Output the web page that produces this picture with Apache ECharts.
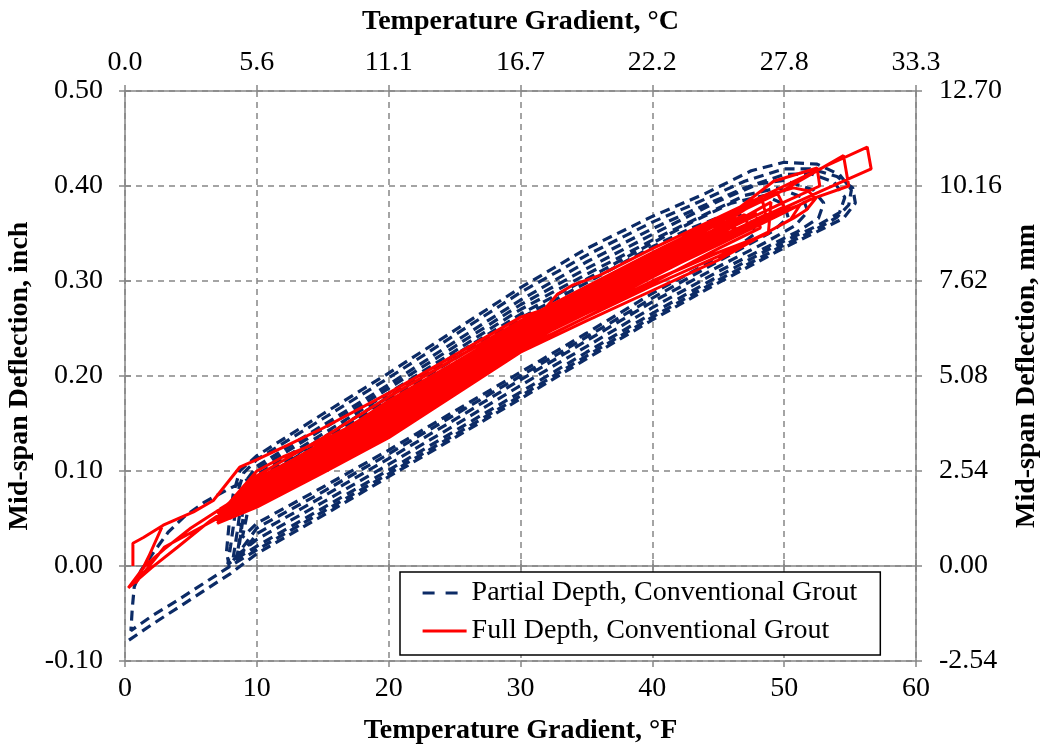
<!DOCTYPE html>
<html>
<head>
<meta charset="utf-8">
<title>Mid-span Deflection vs Temperature Gradient</title>
<script src="https://cdn.jsdelivr.net/npm/echarts@6/dist/echarts.min.js"></script>
<style>
  html, body { margin: 0; padding: 0; background: #ffffff; }
  #chart { width: 1042px; height: 748px; }
</style>
</head>
<body>
<div id="chart"></div>
<script>
// Tick labels for the secondary (metric) axes
const celsiusTicks = ['0.0', '5.6', '11.1', '16.7', '22.2', '27.8', '33.3'];
const mmTicks = ['-2.54', '0.00', '2.54', '5.08', '7.62', '10.16', '12.70'];

// Partial depth panels: daily cycles of [temperature gradient (°F), deflection (in)]
const partialDepthCycle1 = [[0.3,-0.078],[2,-0.062],[4,-0.044],[6,-0.026],[8,-0.008],[10,0.013],[15,0.053],[20,0.094],[25,0.135],[30,0.176],[35,0.218],[40,0.259],[45,0.298],[50,0.335],[52.5,0.352],[54.5,0.366],[55.4,0.382],[55.2,0.398],[54,0.41],[52,0.418],[50,0.418],[47,0.405],[43,0.38],[40,0.362],[35,0.327],[30,0.288],[25,0.243],[20,0.198],[15,0.155],[10,0.112],[9,0.098],[8.6,0.08],[8.3,0.05],[8.0,0.02],[7.8,0.002]];
const partialDepthCycle2 = [[7.8,0.002],[10,0.021],[15,0.061],[20,0.101],[25,0.142],[30,0.183],[35,0.225],[40,0.266],[45,0.305],[50,0.342],[52.5,0.358],[54.2,0.372],[54.6,0.388],[53.8,0.404],[52,0.413],[50,0.412],[47,0.398],[43,0.374],[40,0.355],[35,0.32],[30,0.28],[25,0.236],[20,0.191],[15,0.148],[10,0.105],[9.2,0.09],[8.8,0.065],[8.5,0.035],[8.2,0.008]];
const partialDepthCycle3 = [[8.2,0.008],[10,0.028],[15,0.067],[20,0.107],[25,0.148],[30,0.19],[35,0.231],[40,0.272],[45,0.31],[48,0.331],[51,0.352],[52.6,0.366],[53,0.382],[52.2,0.396],[50,0.406],[48,0.402],[45,0.384],[40,0.349],[35,0.313],[30,0.275],[25,0.231],[20,0.187],[15,0.144],[10,0.101],[9.3,0.085],[9,0.055],[8.7,0.025],[8.4,0.004]];
const partialDepthCycle4 = [[8.4,0.004],[10,0.034],[15,0.073],[20,0.113],[25,0.154],[30,0.196],[35,0.237],[40,0.278],[45,0.315],[48.5,0.34],[50.8,0.358],[51.8,0.373],[51.4,0.388],[49.5,0.398],[47,0.39],[44,0.37],[40,0.343],[35,0.307],[30,0.27],[25,0.226],[20,0.182],[15,0.139],[10,0.096],[8,0.082],[6,0.067],[4.5,0.052],[3.3,0.036],[2.2,0.015],[1.2,-0.005],[0.7,-0.022],[0.55,-0.045],[0.45,-0.068]];
const partialDepthCycle5 = [[0.45,-0.068],[2,-0.053],[4,-0.036],[6,-0.018],[8,0.0],[10,0.017],[15,0.057],[20,0.097],[25,0.138],[30,0.179],[35,0.221],[40,0.262],[45,0.301],[50,0.338],[52.5,0.355],[54,0.367],[54.9,0.38],[55.1,0.396],[54.2,0.412],[52.5,0.423],[50,0.425],[47.5,0.416],[44,0.392],[40,0.368],[35,0.334],[30,0.293],[25,0.248],[20,0.203],[15,0.16],[10,0.116],[8.7,0.1],[8.2,0.075],[7.9,0.045],[7.7,0.015],[7.9,0.0]];
const partialDepthCycle6 = [[7.9,0.0],[10,0.04],[15,0.078],[20,0.118],[25,0.159],[30,0.2],[35,0.241],[40,0.282],[44,0.313],[47,0.336],[49.2,0.353],[50.3,0.367],[50,0.381],[48.5,0.39],[46,0.382],[43,0.362],[40,0.34],[35,0.302],[30,0.265],[25,0.222],[20,0.178],[15,0.135],[10,0.092],[9.5,0.075],[9.2,0.05],[8.9,0.03]];
const partialDepthCycle7 = [[8.9,0.03],[10,0.045],[15,0.083],[20,0.122],[25,0.163],[30,0.204],[35,0.245],[40,0.287],[44,0.317],[46.5,0.336],[47.8,0.35],[47.5,0.365],[46,0.372],[43,0.356],[40,0.336],[35,0.298],[30,0.261],[25,0.218],[20,0.175],[15,0.132],[10,0.089],[9,0.07],[8.8,0.04],[8.5,0.01]];

// Full depth panels: daily cycles of [temperature gradient (°F), deflection (in)]
const fullDepthCycle1 = [[0.6,0.0],[0.6,0.024],[1.4,0.03],[2.9,0.043],[5.2,0.057],[6.7,0.069],[8.7,0.104],[10,0.112],[12.3,0.127],[15,0.145],[20,0.182],[25,0.222],[30,0.262],[31.8,0.27],[32.8,0.286],[34,0.296],[36,0.306],[40,0.334],[45,0.367],[50,0.4],[53,0.42],[56.3,0.441],[56.6,0.418],[53,0.396],[50,0.377],[45,0.343],[40,0.31],[35,0.276],[30,0.24],[25,0.2],[20,0.16],[15,0.12],[10,0.082],[7.5,0.062]];
const fullDepthCycle2 = [[7.5,0.062],[10,0.09],[15,0.13],[20,0.172],[25,0.213],[30,0.253],[35,0.29],[40,0.326],[45,0.362],[50,0.396],[54.5,0.432],[54.9,0.4],[52,0.386],[50,0.372],[45,0.338],[40,0.305],[35,0.27],[30,0.233],[25,0.193],[20,0.153],[15,0.114],[10,0.076],[7,0.055]];
const fullDepthCycle3 = [[7,0.055],[10,0.087],[15,0.127],[20,0.168],[25,0.21],[30,0.25],[35,0.288],[40,0.323],[45,0.36],[49.2,0.405],[52.5,0.419],[52.7,0.4],[50,0.383],[45,0.35],[40,0.315],[35,0.279],[30,0.244],[25,0.205],[20,0.164],[15,0.124],[10,0.084],[7.2,0.06]];
const fullDepthCycle4 = [[7.2,0.06],[10,0.083],[15,0.122],[20,0.162],[25,0.204],[30,0.245],[35,0.283],[40,0.318],[44,0.348],[47,0.375],[49.2,0.392],[50.7,0.398],[51.8,0.395],[52.4,0.387],[51.7,0.375],[50.7,0.366],[48.7,0.351],[45,0.326],[40,0.295],[35,0.262],[30,0.228],[25,0.183],[20,0.137],[15,0.1],[10,0.064],[7,0.047]];
const fullDepthCycle5 = [[7,0.047],[10,0.08],[15,0.12],[20,0.16],[25,0.2],[30,0.24],[35,0.279],[40,0.316],[45,0.352],[49,0.383],[48.8,0.35],[45,0.33],[40,0.3],[35,0.266],[30,0.232],[25,0.189],[20,0.145],[15,0.107],[10,0.07],[7.2,0.05]];
const fullDepthCycle6 = [[7.2,0.05],[10,0.078],[15,0.118],[20,0.158],[25,0.198],[30,0.238],[35,0.276],[40,0.312],[45,0.348],[47.8,0.372],[48.1,0.362],[45,0.338],[40,0.306],[35,0.27],[30,0.236],[25,0.194],[20,0.15],[15,0.111],[10,0.073],[7,0.052]];
const fullDepthCycle7 = [[7,0.052],[10,0.095],[15,0.135],[20,0.178],[25,0.218],[30,0.258],[35,0.294],[40,0.33],[45,0.364],[48.3,0.388],[48.6,0.37],[45,0.345],[40,0.31],[35,0.275],[30,0.238],[25,0.196],[20,0.152],[15,0.113],[10,0.075],[7.3,0.055]];
const fullDepthCycle8 = [[7.3,0.055],[10,0.072],[15,0.11],[20,0.15],[25,0.19],[30,0.232],[35,0.27],[40,0.305],[45,0.34],[50,0.374],[51.2,0.38],[50.5,0.365],[45,0.322],[40,0.29],[35,0.258],[30,0.225],[25,0.18],[20,0.135],[15,0.098],[10,0.062],[7,0.045]];
const fullDepthCycle9 = [[7,0.045],[10,0.088],[15,0.13],[20,0.17],[25,0.21],[30,0.25],[35,0.286],[40,0.322],[45,0.356],[47,0.37],[47.3,0.356],[45,0.342],[40,0.308],[35,0.272],[30,0.238],[25,0.198],[20,0.157],[15,0.118],[10,0.079],[7.5,0.06]];
const fullDepthCycle10 = [[7.5,0.06],[10,0.1],[12,0.115],[15,0.132],[20,0.168],[25,0.207],[30,0.246],[35,0.283],[40,0.319],[44.5,0.35],[44.8,0.338],[40,0.304],[35,0.268],[30,0.23],[25,0.186],[20,0.142],[15,0.104],[10,0.068],[7.3,0.05]];
const fullDepthCycle11 = [[7.3,0.05],[10,0.092],[15,0.128],[20,0.174],[25,0.214],[30,0.255],[35,0.291],[40,0.328],[45,0.362],[49.5,0.392],[50,0.378],[45,0.346],[40,0.312],[35,0.277],[30,0.243],[25,0.202],[20,0.16],[15,0.12],[10,0.083],[7.3,0.055]];
const fullDepthCycle12 = [[7.3,0.055],[10,0.077],[15,0.116],[20,0.155],[25,0.195],[30,0.236],[35,0.273],[40,0.309],[45,0.344],[48,0.365],[48.2,0.356],[45,0.334],[40,0.298],[35,0.262],[30,0.228],[25,0.186],[20,0.14],[15,0.102],[10,0.066],[7.3,0.05]];
const fullDepthCycle13 = [[7.3,0.05],[10,0.086],[15,0.124],[20,0.164],[25,0.204],[30,0.244],[35,0.282],[40,0.318],[45,0.354],[46,0.36],[46.2,0.35],[40,0.31],[35,0.276],[30,0.242],[25,0.201],[20,0.158],[15,0.118],[10,0.08],[7.3,0.05]];
const fullDepthCycle14 = [[7.3,0.05],[10,0.085],[15,0.125],[20,0.165],[25,0.206],[30,0.247],[35,0.285],[40,0.32],[46,0.363],[46.5,0.35],[40,0.31],[35,0.274],[30,0.24],[25,0.198],[20,0.155],[15,0.116],[10,0.078],[7,0.058],[5,0.04],[3,0.018],[1.5,0.0],[0.25,-0.023],[2,-0.002],[4,0.02],[6.5,0.048]];
const fullDepthCycle15 = [[6.5,0.048],[10,0.081],[15,0.121],[20,0.162],[25,0.203],[30,0.243],[35,0.281],[40,0.317],[43,0.338],[43.5,0.33],[40,0.308],[35,0.272],[30,0.235],[25,0.19],[20,0.147],[15,0.108],[10,0.07],[7,0.05],[3,0.02],[0.8,-0.018],[1.8,0.01],[2.8,0.041]];

const partialDepth = [].concat(partialDepthCycle1, partialDepthCycle2, partialDepthCycle3,
  partialDepthCycle4, partialDepthCycle5, partialDepthCycle6, partialDepthCycle7);
const fullDepth = [].concat(fullDepthCycle1, fullDepthCycle2, fullDepthCycle3, fullDepthCycle4,
  fullDepthCycle5, fullDepthCycle6, fullDepthCycle7, fullDepthCycle8, fullDepthCycle9,
  fullDepthCycle10, fullDepthCycle11, fullDepthCycle12, fullDepthCycle13, fullDepthCycle14,
  fullDepthCycle15);

const FONT = 'Liberation Serif';
const AXIS_GRAY = '#868686';
const NAVY = '#0c2b66';
const RED = '#ff0000';

const X_RANGE = { min: 0, max: 60, interval: 10 };
const Y_RANGE = { min: -0.1, max: 0.5, interval: 0.1 };

const tickLabel = { fontFamily: FONT, fontSize: 28, color: '#000' };
const titleText = { fontFamily: FONT, fontSize: 28, fontWeight: 'bold', color: '#000' };
const axisLine = { show: true, lineStyle: { color: AXIS_GRAY, width: 1.5 } };
const tickStyle = { color: AXIS_GRAY, width: 1.5 };

// A bare axis that only contributes tick marks (used to make ticks cross the axis line)
function tickOnlyX(position, inside) {
  return Object.assign({ type: 'value', position: position, gridIndex: 0 }, X_RANGE, {
    axisLine: { show: false }, axisLabel: { show: false }, splitLine: { show: false },
    axisTick: { show: true, inside: inside, length: 6, lineStyle: tickStyle }
  });
}
function tickOnlyY(position, inside) {
  return Object.assign({ type: 'value', position: position, gridIndex: 0 }, Y_RANGE, {
    axisLine: { show: false }, axisLabel: { show: false }, splitLine: { show: false },
    axisTick: { show: true, inside: inside, length: 6, lineStyle: tickStyle }
  });
}

const chart = echarts.init(document.getElementById('chart'), null, { renderer: 'canvas' });

chart.setOption({
  backgroundColor: '#ffffff',
  animation: false,
  textStyle: { fontFamily: FONT },
  grid: { left: 125, right: 126, top: 91, bottom: 87, containLabel: false, outerBoundsMode: 'none' },
  xAxis: [
    Object.assign({ type: 'value', position: 'bottom' }, X_RANGE, {
      name: 'Temperature Gradient, °F', nameLocation: 'middle', nameGap: 56,
      nameTextStyle: titleText,
      axisLine: Object.assign({ onZero: false }, axisLine),
      axisTick: { show: true, inside: false, length: 6, lineStyle: tickStyle },
      axisLabel: Object.assign({ margin: 14 }, tickLabel),
      splitLine: { show: true, lineStyle: { color: AXIS_GRAY, width: 1.5, type: [6, 5] } }
    }),
    tickOnlyX('bottom', true),
    Object.assign({ type: 'value', position: 'top' }, X_RANGE, {
      name: 'Temperature Gradient, °C', nameLocation: 'middle', nameGap: 55,
      nameTextStyle: titleText,
      axisLine: Object.assign({ onZero: false }, axisLine),
      axisTick: { show: true, inside: false, length: 6, lineStyle: tickStyle },
      axisLabel: Object.assign({ margin: 14, formatter: v => celsiusTicks[Math.round(v / 10)] }, tickLabel),
      splitLine: { show: false }
    }),
    tickOnlyX('top', true),
    // Zero-deflection reference line with ticks hanging below it
    Object.assign({ type: 'value', position: 'bottom' }, X_RANGE, {
      axisLine: Object.assign({ onZero: true, onZeroAxisIndex: 0 }, axisLine),
      axisTick: { show: true, inside: false, length: 6, lineStyle: tickStyle },
      axisLabel: { show: false }, splitLine: { show: false }
    })
  ],
  yAxis: [
    Object.assign({ type: 'value', position: 'left' }, Y_RANGE, {
      name: 'Mid-span Deflection, inch', nameLocation: 'middle', nameGap: 85,
      nameTextStyle: titleText,
      axisLine: Object.assign({ onZero: false }, axisLine),
      axisTick: { show: true, inside: false, length: 6, lineStyle: tickStyle },
      axisLabel: Object.assign({ margin: 22, formatter: v => v.toFixed(2) }, tickLabel),
      splitLine: { show: true, lineStyle: { color: AXIS_GRAY, width: 1.5, type: [6, 5] } }
    }),
    tickOnlyY('left', true),
    Object.assign({ type: 'value', position: 'right' }, Y_RANGE, {
      name: 'Mid-span Deflection, mm', nameLocation: 'middle', nameGap: 96,
      nameTextStyle: titleText, nameRotate: 90,
      axisLine: Object.assign({ onZero: false }, axisLine),
      axisTick: { show: true, inside: false, length: 6, lineStyle: tickStyle },
      axisLabel: Object.assign({ margin: 23, formatter: v => mmTicks[Math.round((v + 0.1) / 0.1)] }, tickLabel),
      splitLine: { show: false }
    }),
    tickOnlyY('right', true)
  ],
  legend: {
    show: true,
    orient: 'vertical',
    left: 400,
    top: 572,
    backgroundColor: '#ffffff',
    borderColor: '#000000',
    borderWidth: 1.5,
    borderRadius: 0,
    padding: [7, 23, 10, 21],
    itemWidth: 44,
    itemHeight: 14,
    itemGap: 10,
    itemStyle: { opacity: 0 },
    textStyle: { fontFamily: FONT, fontSize: 28, color: '#000' },
    data: [
      { name: 'Partial Depth, Conventional Grout', lineStyle: { type: [12, 11], width: 3.2 } },
      { name: 'Full Depth, Conventional Grout', lineStyle: { width: 3 } }
    ]
  },
  series: [
    {
      name: 'Partial Depth, Conventional Grout',
      type: 'line',
      xAxisIndex: 0, yAxisIndex: 0,
      data: partialDepth,
      symbol: 'none',
      smooth: false,
      z: 2,
      lineStyle: { color: NAVY, width: 3.2, type: [10, 6] },
      itemStyle: { color: NAVY }
    },
    {
      name: 'Full Depth, Conventional Grout',
      type: 'line',
      xAxisIndex: 0, yAxisIndex: 0,
      data: fullDepth,
      symbol: 'none',
      smooth: false,
      z: 3,
      lineStyle: { color: RED, width: 3 },
      itemStyle: { color: RED }
    }
  ]
});
</script>
</body>
</html>
